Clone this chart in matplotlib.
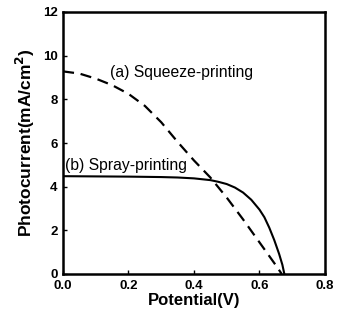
import matplotlib.pyplot as plt

plt.rcParams['font.family'] = ['Liberation Sans', 'DejaVu Sans']

# (a) squeeze-printing, dashed
v_a = [0.0, 0.05, 0.1, 0.15, 0.2, 0.25, 0.3, 0.35, 0.4, 0.45, 0.5, 0.55, 0.6, 0.65, 0.668]
i_a = [9.28, 9.18, 8.95, 8.65, 8.25, 7.7, 6.95, 6.05, 5.2, 4.42, 3.5, 2.5, 1.45, 0.4, 0.0]

# (b) spray-printing, solid
v_b = [0.0, 0.1, 0.2, 0.3, 0.35, 0.4, 0.45, 0.475, 0.5, 0.525, 0.55, 0.575, 0.6,
       0.615, 0.63, 0.645, 0.66, 0.67, 0.676]
i_b = [4.48, 4.47, 4.46, 4.44, 4.42, 4.38, 4.3, 4.22, 4.12, 3.96, 3.73, 3.4, 2.95,
       2.6, 2.12, 1.56, 0.92, 0.42, 0.0]

x_ticks = [0.0, 0.2, 0.4, 0.6, 0.8]
y_ticks = [0, 2, 4, 6, 8, 10, 12]

fig = plt.figure(figsize=(3.38, 3.2), dpi=100)
ax = fig.add_axes([0.1864, 0.14375, 0.775, 0.81875])

ax.plot(v_a, i_a, color='black', lw=1.6, dashes=(5, 3))
ax.plot(v_b, i_b, color='black', lw=1.5)

ax.text(0.144, 9.22, '(a) Squeeze-printing', fontsize=11.3, va='center')
ax.text(0.006, 4.97, '(b) Spray-printing', fontsize=11.3, va='center')

ax.set_xlim(0, 0.8)
ax.set_ylim(0, 12)
ax.set_xticks(x_ticks)
ax.set_yticks(y_ticks)
ax.set_xticklabels(['%.1f' % t for t in x_ticks], fontweight='bold', fontsize=9.5)
ax.set_yticklabels([str(t) for t in y_ticks], fontweight='bold', fontsize=9.5)
ax.tick_params(direction='in', length=3, width=1, pad=4)
for s in ax.spines.values():
    s.set_linewidth(1.8)

ax.set_xlabel('Potential(V)', fontweight='bold', fontsize=12, labelpad=1)
ax.set_ylabel('Photocurrent(mA/cm$^\\mathbf{2}$)', fontweight='bold', fontsize=12.5, labelpad=4)

fig.savefig('out.png', dpi=100)
